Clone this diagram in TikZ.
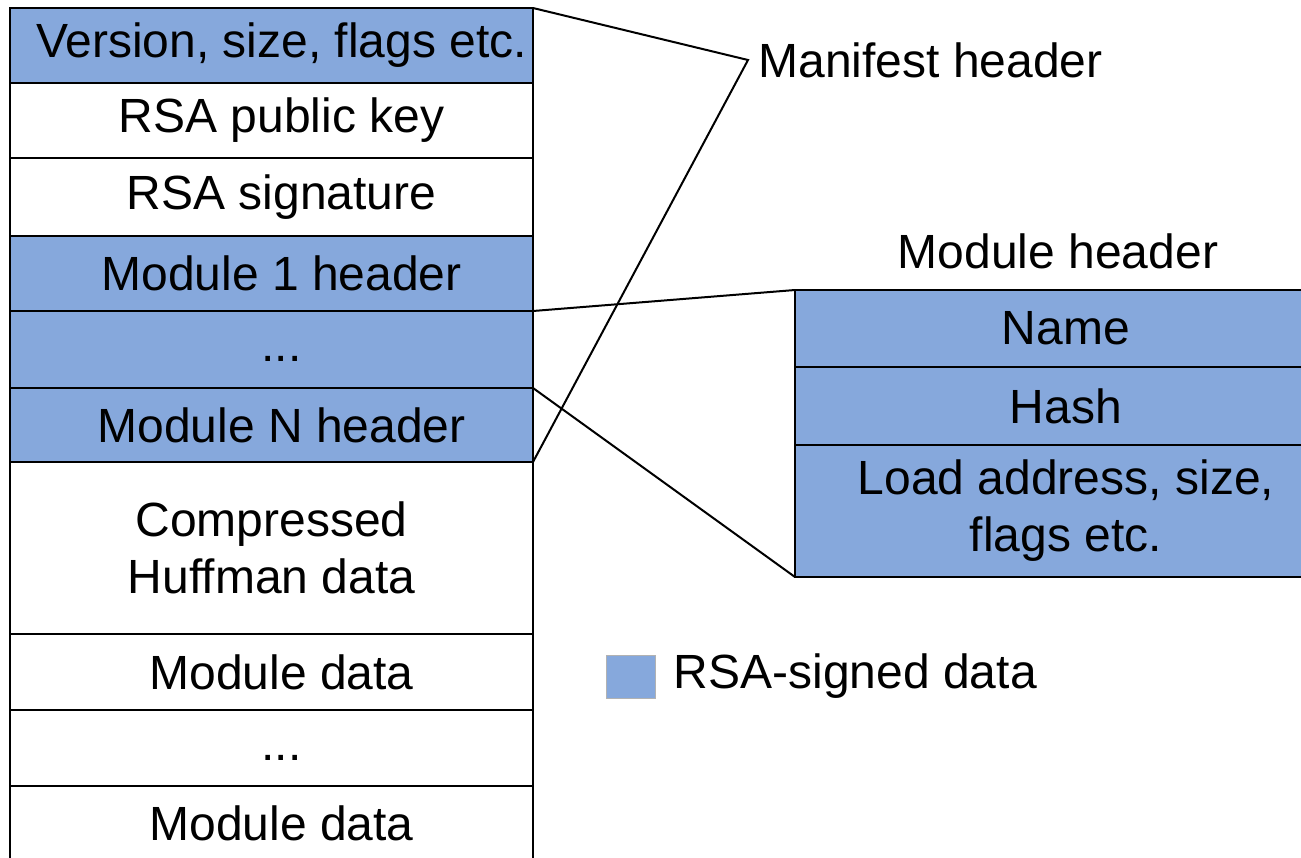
\documentclass[tikz,border=0pt]{standalone}
\usepackage{fontspec}
\setmainfont{Liberation Sans}
\usetikzlibrary{positioning}
\definecolor{azulAssinado}{RGB}{134,168,220}
\tikzset{
    caixa/.style={
        rectangle,
        draw,
        line width=1pt,
        inner sep=0pt,
        outer sep=0pt,
        anchor=north
    },
    campo/.style={
        caixa,
        minimum width=261.5pt,
        execute at begin node={\hspace*{10pt}}
    },
    assinado/.style={campo, fill=azulAssinado},
    cabecalho/.style={caixa, fill=azulAssinado, minimum width=271pt},
    amostra/.style={
        rectangle,
        fill=azulAssinado,
        draw=gray!60,
        line width=0.5pt,
        inner sep=0pt,
        minimum width=24.5pt,
        minimum height=21.5pt
    },
    rotulo/.style={inner sep=0pt},
    ligacao/.style={line width=1pt}
}

\begin{document}
\begin{tikzpicture}[
        x=0.5pt, y=-0.5pt,
        node distance=0pt,
        every node/.style={font=\fontsize{24}{28.5}\selectfont}
    ]
    \useasboundingbox (0,0) rectangle (1301,857);

    % coluna do manifesto
    \node[assinado, minimum height=37.5pt] (versao) at (271.5,8) {Version, size, flags etc.};
    \node[campo, below=of versao, minimum height=37.5pt] (chave) {RSA public key};
    \node[campo, below=of chave, minimum height=39pt] (assinatura) {RSA signature};
    \node[assinado, below=of assinatura, minimum height=37.5pt] (modulo1) {Module 1 header};
    \node[assinado, below=of modulo1, minimum height=38.5pt, text height=12pt] (reticencias) {...};
    \node[assinado, below=of reticencias, minimum height=37pt] (moduloN) {Module N header};
    \node[caixa, minimum width=261.5pt, align=center, below=of moduloN, minimum height=86pt] (huffman) {Compressed\\Huffman data};
    \node[campo, below=of huffman, minimum height=38pt] (dados1) {Module data};
    \node[campo, below=of dados1, minimum height=38pt, text height=12pt] (reticenciasDados) {...};
    \node[campo, below=of reticenciasDados, minimum height=37pt] (dadosN) {Module data};

    % cabecalho do modulo
    \node[cabecalho, minimum height=38.5pt] (nome) at (1066,290) {Name};
    \node[cabecalho, below=of nome, minimum height=39pt] (hash) {Hash};
    \node[cabecalho, below=of hash, minimum height=66pt, align=center] (carga) {Load address, size,\\flags etc.};
    \node[rotulo, above=10.5pt of nome, xshift=-4pt] (tituloModulo) {Module header};

    \coordinate (vertice) at (748,60);
    \node[rotulo, right=5pt of vertice] (manifesto) {Manifest header};

    % legenda
    \node[amostra] (amostra) at (630.5,676.5) {};
    \node[rotulo, right=9pt of amostra] (legenda) {RSA-signed data};

    \draw[ligacao] (versao.north east) -- (vertice) -- (moduloN.south east);
    \draw[ligacao] (modulo1.south east) -- (nome.north west);
    \draw[ligacao] (reticencias.south east) -- (carga.south west);
\end{tikzpicture}
\end{document}
